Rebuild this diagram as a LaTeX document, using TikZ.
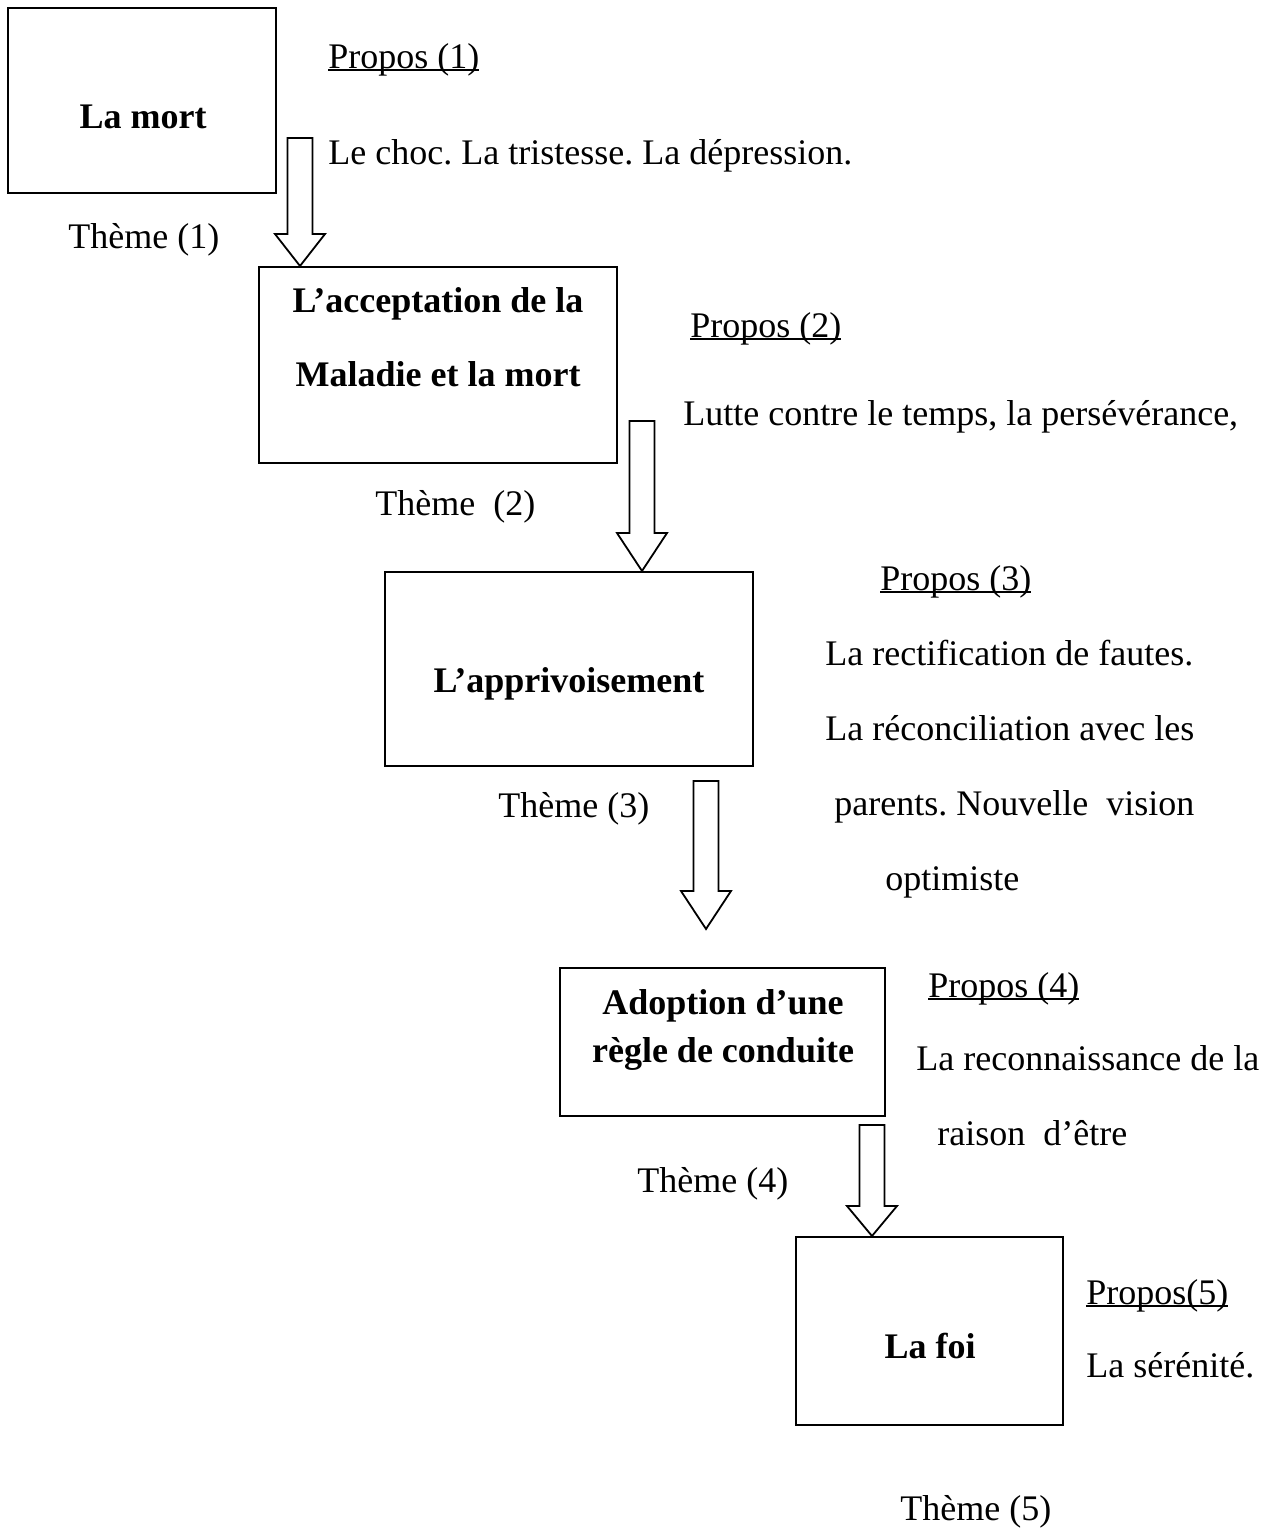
\documentclass[tikz,border=0pt]{standalone}
\usepackage{fontspec}
\setmainfont{Liberation Serif}
\usetikzlibrary{calc}
\frenchspacing

\newsavebox{\soulbox}
\newcommand{\souligne}[1]{\sbox\soulbox{#1}\rlap{\rule[-1.6pt]{\wd\soulbox}{1.1pt}}\usebox\soulbox}
% fleche creuse : du point #1 vers le point #2, pointe de longueur #3
\newcommand{\flechebloc}[3]{%
  \draw[fleche] let \p1=(#1), \p2=(#2) in
    (\x1-6.25pt,\y1) -- (\x1+6.25pt,\y1) -- (\x1+6.25pt,\y2+#3)
    -- (\x1+12.5pt,\y2+#3) -- (\x1,\y2) -- (\x1-12.5pt,\y2+#3)
    -- (\x1-6.25pt,\y2+#3) -- cycle;}

\begin{document}
\begin{tikzpicture}[x=0.5pt, y=-0.5pt,
    cadre/.style={draw, line width=1pt, rectangle, inner sep=0pt},
    fleche/.style={draw, line width=0.9pt, line join=miter, fill=white},
    txt/.style={inner sep=0pt, anchor=base west, font=\fontsize{18}{22}\selectfont},
    titre/.style={inner sep=0pt, anchor=base, font=\fontsize{18}{22}\selectfont\bfseries}]
        \useasboundingbox (0,0) rectangle (1266,1537);

        % les cinq themes
        \node[cadre, minimum width=134pt, minimum height=92.5pt] (m1) at (142,100.5) {};
        \node[cadre, minimum width=179pt, minimum height=98pt] (m2) at (438,365) {};
        \node[cadre, minimum width=184pt, minimum height=97pt] (m3) at (569,669) {};
        \node[cadre, minimum width=162.5pt, minimum height=74pt] (m4) at (722.5,1042) {};
        \node[cadre, minimum width=133.5pt, minimum height=94pt] (m5) at (929.5,1331) {};

        \node[titre] (t1) at (143,128) {La mort};
        \node[titre] (t2a) at (438,312) {L’acceptation de la};
        \node[titre] (t2b) at (438,386) {Maladie et la mort};
        \node[titre] (t3) at (569,692) {L’apprivoisement};
        \node[titre] (t4a) at (723,1014) {Adoption d’une};
        \node[titre] (t4b) at (723,1062) {règle de conduite};
        \node[titre] (t5) at (930,1358) {La foi};

        % fleches
        \coordinate (a1) at (300,138);
        \coordinate (a2) at (642,421);
        \coordinate (a3) at (706,781);
        \coordinate (b3) at (706,929);
        \coordinate (a4) at (872,1125);
        \flechebloc{a1}{a1 |- m2.north}{16pt}
        \flechebloc{a2}{a2 |- m3.north}{19pt}
        \flechebloc{a3}{b3}{19pt}
        \flechebloc{a4}{a4 |- m5.north}{15pt}

        % themes
        \node[txt] (th1) at (68,248) {Thème (1)};
        \node[txt] (th2) at (375,515) {Thème~ (2)};
        \node[txt] (th3) at (498,817) {Thème (3)};
        \node[txt] (th4) at (637,1192) {Thème (4)};
        \node[txt] (th5) at (900,1520) {Thème (5)};

        % propos
        \node[txt] (p1) at (328,68) {\souligne{Propos (1)}};
        \node[txt] (p1a) at (328,164) {Le choc. La tristesse. La dépression.};
        \node[txt] (p2) at (690,337) {\souligne{Propos (2)}};
        \node[txt] (p2a) at (683,425) {Lutte contre le temps, la persévérance,};
        \node[txt] (p3) at (880,590) {\souligne{Propos (3)}};
        \node[txt] (p3a) at (825,665) {La rectification de fautes.};
        \node[txt] (p3b) at (825,740) {La réconciliation avec les};
        \node[txt] (p3c) at (834,815) {parents. Nouvelle~ vision};
        \node[txt] (p3d) at (885,890) {optimiste};
        \node[txt] (p4) at (928,997) {\souligne{Propos (4)}};
        \node[txt] (p4a) at (916,1070) {La reconnaissance de la};
        \node[txt] (p4b) at (937,1145) {raison~ d’être};
        \node[txt] (p5) at (1086,1304) {\souligne{Propos(5)}};
        \node[txt] (p5a) at (1086,1377) {La sérénité.};
    \end{tikzpicture}
\end{document}
